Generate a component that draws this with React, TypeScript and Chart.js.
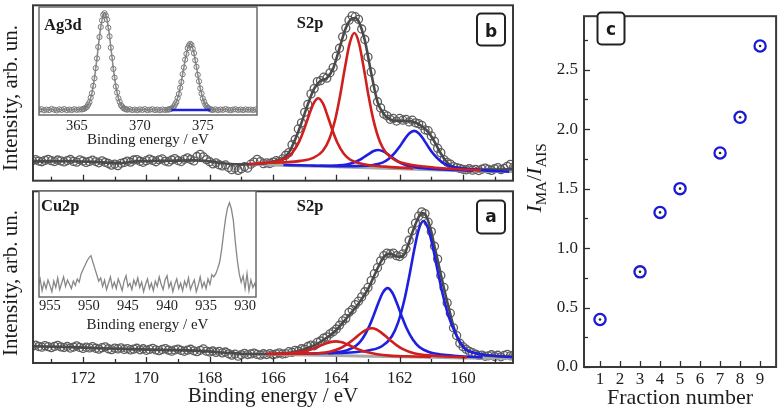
import React, { useEffect, useRef } from 'react';
import { Chart, registerables } from 'chart.js';

Chart.register(...registerables);

const SERIF = "'Liberation Serif', 'Times New Roman', serif";
const BOXFONT = "'DejaVu Sans', 'Liberation Sans', sans-serif";
Chart.defaults.font.family = SERIF;
Chart.defaults.color = '#1e1e1e';

type Pt = [number, number];

// ================= S2p spectra (panels b and a) =================
const spectrumStartEV = 173.6;
const spectrumStepEV = 0.1;
const spectrumTicksEV = [173, 172, 171, 170, 169, 168, 167, 166, 165, 164, 163, 162, 161, 160, 159];
const intensityTitle = 'Intensity, arb. un.';
const energyTitle = 'Binding energy / eV';

// panel b measured points (173.6 -> 158.4 eV, 0.1 eV step)
const panelBCounts = [
  11.5, 12.0, 11.2, 10.8, 11.6, 12.2, 11.4, 10.9, 11.8, 11.3,
  10.7, 11.5, 12.1, 11.0, 10.6, 11.9, 11.2, 10.4, 11.0, 11.7,
  10.9, 10.2, 11.3, 10.5, 9.8, 8.9, 9.5, 8.6, 9.9, 10.4,
  11.2, 10.6, 11.8, 12.0, 11.1, 10.5, 11.4, 12.3, 11.6, 10.8,
  11.9, 12.4, 11.2, 10.7, 11.8, 12.6, 11.5, 10.9, 12.2, 13.0,
  12.1, 11.3, 13.8, 15.0, 13.6, 12.0, 10.8, 9.6, 10.2, 9.1,
  8.4, 9.0, 7.5, 6.3, 7.1, 5.9, 6.8, 8.0, 7.2, 9.4,
  10.6, 12.2, 10.9, 9.7, 10.2, 9.8, 10.6, 11.4, 11.0, 12.4,
  14.5, 16.0, 20.5, 23.5, 29.5, 33.0, 39.0, 43.5, 49.5, 52.5,
  56.5, 57.0, 59.0, 58.5, 61.5, 64.5, 71.0, 75.5, 82.0, 87.0,
  91.5, 94.0, 93.5, 92.0, 86.5, 80.5, 70.5, 62.0, 52.5, 45.0,
  41.5, 38.0, 37.0, 35.0, 35.5, 34.0, 35.5, 34.5, 35.0, 33.5,
  34.5, 33.0, 32.5, 31.5, 29.0, 28.5, 25.5, 22.5, 18.5, 16.0,
  12.0, 10.5, 9.5, 8.0, 7.5, 7.0, 6.5, 6.2, 6.8, 6.0,
  6.5, 5.8, 6.6, 7.2, 6.4, 5.9, 6.8, 7.5, 6.3, 7.0,
  8.2, 9.3, 7.8,
];

const panelBEnvelope: Pt[] = [
  [173.6, 11.0], [172.5, 11.1], [171.5, 10.6], [170.9, 10.0], [170.3, 11.0], [169.5, 11.3],
  [168.5, 11.6], [168.0, 11.0], [167.5, 9.8], [167.0, 9.3], [166.5, 9.5], [166.1, 10.4],
  [165.9, 11.4], [165.7, 12.4], [165.5, 16.0], [165.3, 23.5], [165.1, 33.0], [164.9, 43.5],
  [164.7, 52.5], [164.5, 57.0], [164.3, 58.5], [164.1, 64.0], [163.9, 75.5], [163.7, 87.0],
  [163.5, 92.5], [163.4, 92.8], [163.3, 91.0], [163.1, 80.0], [162.9, 61.5], [162.7, 45.0],
  [162.5, 38.0], [162.3, 35.0], [162.1, 34.2], [161.9, 34.2], [161.7, 34.0], [161.5, 33.2],
  [161.3, 31.0], [161.1, 27.8], [160.9, 22.2], [160.7, 15.5], [160.5, 10.3], [160.3, 8.0],
  [160.1, 7.4], [159.8, 6.7], [159.0, 6.4], [158.4, 6.6],
];

const panelBBackground: Pt[] = [
  [166.7, 9.4], [166.0, 9.0], [165.0, 8.45], [164.0, 7.9], [163.0, 7.35], [162.0, 6.8],
  [161.0, 6.25], [160.0, 5.7], [159.0, 5.45], [158.4, 5.3],
];

const panelBRedMain: Pt[] = [
  [166.43, 10.1], [165.63, 10.5], [165.13, 11.3], [164.73, 13.0], [164.43, 16.9], [164.23, 23.3],
  [164.03, 35.3], [163.88, 48.6], [163.73, 64.2], [163.58, 78.2], [163.43, 84.2], [163.28, 78.1],
  [163.13, 63.9], [162.98, 48.1], [162.83, 34.7], [162.63, 22.5], [162.43, 15.9], [162.13, 11.6],
  [161.73, 9.4], [161.23, 8.1], [160.43, 6.8], [159.43, 5.9],
];
const panelBRedMinor: Pt[] = [
  [166.77, 9.6], [166.27, 10.0], [165.87, 11.0], [165.57, 13.2], [165.37, 16.4], [165.17, 22.4],
  [165.02, 29.1], [164.87, 37.0], [164.72, 44.0], [164.57, 47.0], [164.42, 43.9], [164.27, 36.6],
  [164.12, 28.6], [163.97, 21.8], [163.77, 15.5], [163.57, 12.1], [163.27, 9.9], [162.87, 8.7],
  [162.37, 7.9], [161.57, 7.0],
];
const panelBBlueMain: Pt[] = [
  [164.54, 8.5], [163.74, 8.3], [163.24, 8.4], [162.84, 9.0], [162.54, 10.3], [162.34, 12.5],
  [162.14, 16.1], [161.99, 19.7], [161.84, 23.7], [161.69, 27.1], [161.54, 28.4], [161.39, 26.9],
  [161.24, 23.4], [161.09, 19.2], [160.94, 15.4], [160.74, 11.6], [160.54, 9.2], [160.24, 7.5],
  [159.84, 6.6], [159.34, 5.9], [158.54, 5.2],
];
const panelBBlueMinor: Pt[] = [
  [165.67, 9.0], [164.87, 8.7], [164.37, 8.5], [163.97, 8.7], [163.67, 9.2], [163.47, 10.2],
  [163.27, 11.8], [163.12, 13.5], [162.97, 15.3], [162.82, 16.9], [162.67, 17.5], [162.52, 16.7],
  [162.37, 15.0], [162.22, 13.0], [162.07, 11.2], [161.87, 9.3], [161.67, 8.1], [161.37, 7.2],
  [160.97, 6.7], [160.47, 6.2], [159.67, 5.7],
];

// panel a measured points (173.6 -> 158.4 eV, 0.1 eV step)
const panelACounts = [
  9.8, 10.4, 9.6, 9.2, 10.1, 9.5, 8.9, 9.7, 10.3, 9.4,
  9.0, 9.6, 8.7, 9.3, 10.0, 9.1, 8.5, 9.2, 8.8, 9.5,
  8.6, 8.1, 8.9, 9.4, 8.3, 7.8, 8.7, 8.2, 8.8, 7.9,
  8.4, 7.6, 8.1, 8.6, 7.7, 8.3, 7.4, 7.9, 8.5, 7.6,
  7.2, 7.9, 8.4, 7.5, 6.9, 7.6, 8.1, 7.3, 6.8, 7.5,
  8.0, 7.1, 6.6, 7.4, 8.2, 6.9, 6.4, 7.0, 6.2, 6.8,
  5.9, 6.4, 5.4, 4.6, 5.2, 4.0, 4.8, 5.6, 4.9, 5.3,
  5.8, 5.0, 4.6, 5.4, 4.9, 5.5, 4.8, 5.3, 5.9, 5.2,
  5.5, 6.6, 6.2, 7.4, 7.0, 8.3, 8.0, 9.6, 10.4, 10.0,
  12.0, 12.8, 14.5, 15.2, 17.0, 18.2, 19.8, 22.0, 24.5, 26.0,
  29.5, 31.0, 34.0, 36.0, 38.5, 41.5, 44.0, 48.0, 52.0, 55.5,
  59.5, 62.5, 64.0, 63.5, 64.0, 62.5, 62.0, 63.5, 66.5, 71.5,
  77.0, 81.5, 85.5, 88.0, 87.0, 82.0, 76.5, 68.0, 60.5, 51.0,
  44.0, 35.0, 29.0, 20.5, 16.0, 11.5, 9.5, 8.0, 6.8, 6.0,
  5.2, 4.4, 4.6, 3.9, 4.2, 4.8, 3.8, 4.5, 3.6, 4.4,
  5.0, 4.2, 4.7,
];

const panelAEnvelope: Pt[] = [
  [173.6, 9.8], [172.5, 9.3], [171.5, 8.6], [170.5, 8.1], [169.5, 7.6], [168.5, 7.2],
  [167.5, 6.0], [167.0, 5.4], [166.5, 5.2], [166.0, 5.3], [165.6, 5.6], [165.3, 6.5],
  [165.0, 8.0], [164.8, 9.5], [164.6, 11.2], [164.4, 13.6], [164.2, 16.2], [164.0, 19.2],
  [163.8, 23.4], [163.6, 27.8], [163.4, 32.2], [163.2, 37.2], [163.0, 43.0], [162.8, 51.0],
  [162.6, 58.8], [162.45, 62.8], [162.3, 63.7], [162.15, 62.5], [162.0, 61.8], [161.85, 63.5],
  [161.7, 70.5], [161.55, 78.5], [161.4, 85.0], [161.3, 87.3], [161.2, 86.8], [161.1, 82.8],
  [161.0, 76.5], [160.9, 68.0], [160.8, 60.0], [160.7, 51.5], [160.6, 43.5], [160.5, 35.8],
  [160.4, 28.5], [160.3, 21.5], [160.2, 15.8], [160.1, 11.8], [160.0, 9.6], [159.85, 7.4],
  [159.6, 5.7], [159.3, 4.6], [159.0, 4.1], [158.4, 3.6],
];

const panelABackground: Pt[] = [
  [166.6, 5.2], [165.0, 4.64], [164.0, 4.3], [163.0, 3.96], [162.0, 3.62], [161.0, 3.28],
  [160.0, 2.94], [159.0, 2.8], [158.4, 2.8],
];

const panelABlueMain: Pt[] = [
  [164.25, 5.6], [163.45, 6.3], [162.95, 7.4], [162.55, 9.9], [162.25, 15.4], [162.05, 23.5],
  [161.85, 36.8], [161.7, 50.2], [161.55, 65.0], [161.4, 77.6], [161.25, 82.7], [161.1, 78.3],
  [160.95, 67.3], [160.8, 53.7], [160.65, 40.8], [160.45, 27.0], [160.25, 17.8], [159.95, 8.5],
  [159.55, 5.6], [159.05, 4.2], [158.25, 3.2],
];
const panelABlueMinor: Pt[] = [
  [165.38, 5.4], [164.58, 5.6], [164.08, 6.1], [163.68, 7.3], [163.38, 10.0], [163.18, 14.0],
  [162.98, 20.6], [162.83, 27.3], [162.68, 34.7], [162.53, 41.0], [162.38, 43.6], [162.23, 40.9],
  [162.08, 34.5], [161.93, 27.0], [161.78, 20.2], [161.58, 13.5], [161.38, 9.3], [161.08, 6.4],
  [160.68, 4.9], [160.18, 4.1], [159.38, 3.3],
];
const panelARedMain: Pt[] = [
  [165.88, 5.3], [165.08, 5.4], [164.58, 5.7], [164.18, 6.7], [163.88, 8.6], [163.68, 10.7],
  [163.48, 13.4], [163.33, 15.7], [163.18, 17.9], [163.03, 19.6], [162.88, 20.2], [162.73, 19.5],
  [162.58, 17.7], [162.43, 15.4], [162.28, 13.0], [162.08, 10.1], [161.88, 7.9], [161.58, 5.8],
  [161.18, 4.6], [160.68, 3.9], [159.88, 3.3],
];
const panelARedMinor: Pt[] = [
  [166.21, 5.3], [165.71, 5.4], [165.31, 6.0], [165.01, 6.8], [164.81, 7.9], [164.61, 9.2],
  [164.46, 10.4], [164.31, 11.5], [164.16, 12.3], [164.01, 12.6], [163.86, 12.2], [163.71, 11.3],
  [163.56, 10.1], [163.41, 8.8], [163.21, 7.3], [163.01, 6.2], [162.71, 5.1], [162.31, 4.3],
  [161.81, 3.9], [161.01, 3.5],
];

// ================= Ag3d inset =================
const agTicksEV = [365, 370, 375];
const agSpectrum: Pt[] = [
  [362.0, 4.8], [362.2, 5.4], [362.4, 4.4], [362.6, 5.0], [362.8, 4.6], [363.0, 5.6], [363.2, 4.9],
  [363.4, 4.3], [363.6, 5.2], [363.8, 4.7], [364.0, 5.5], [364.2, 4.5], [364.4, 5.0], [364.6, 4.6],
  [364.8, 5.3], [365.0, 4.8], [365.2, 5.1], [365.4, 5.1], [365.5, 5.6], [365.6, 5.8], [365.7, 6.7],
  [365.8, 7.5], [365.9, 9.6], [366.0, 11.8], [366.1, 16.0], [366.2, 20.2], [366.3, 27.0], [366.4, 34.0],
  [366.5, 43.4], [366.6, 52.4], [366.7, 63.0], [366.8, 72.2], [366.9, 81.5], [367.0, 87.6], [367.1, 92.8],
  [367.2, 94.2], [367.3, 92.2], [367.4, 88.4], [367.5, 80.8], [367.6, 72.8], [367.7, 62.4], [367.8, 53.0],
  [367.9, 42.7], [368.0, 34.6], [368.1, 26.4], [368.2, 20.8], [368.3, 15.5], [368.4, 12.2], [368.5, 9.2],
  [368.6, 7.8], [368.7, 6.4], [368.8, 5.8], [368.9, 5.4], [369.0, 4.9], [369.2, 5.3], [369.4, 4.6],
  [369.6, 5.0], [369.8, 4.4], [370.0, 5.2], [370.2, 4.7], [370.4, 5.4], [370.6, 4.5], [370.8, 4.9],
  [371.0, 5.3], [371.2, 4.6], [371.4, 5.0], [371.6, 4.4], [371.8, 5.1], [372.0, 4.7], [372.2, 4.9],
  [372.3, 5.1], [372.4, 5.4], [372.5, 5.8], [372.6, 6.8], [372.7, 7.8], [372.8, 9.9], [372.9, 12.0],
  [373.0, 15.7], [373.1, 19.5], [373.2, 25.2], [373.3, 30.6], [373.4, 37.8], [373.5, 44.0], [373.6, 51.3],
  [373.7, 56.6], [373.8, 61.9], [373.9, 64.4], [374.0, 65.9], [374.1, 64.9], [374.2, 61.3], [374.3, 57.2],
  [374.4, 50.7], [374.5, 44.6], [374.6, 37.2], [374.7, 31.2], [374.8, 24.6], [374.9, 19.9], [375.0, 15.3],
  [375.1, 12.4], [375.2, 9.5], [375.3, 8.0], [375.4, 6.6], [375.5, 6.0], [375.6, 5.2], [375.7, 5.0],
  [375.8, 4.7], [376.0, 5.2], [376.2, 4.6], [376.4, 5.1], [376.6, 4.8], [376.8, 5.5], [377.0, 4.9],
  [377.2, 4.4], [377.4, 5.0], [377.6, 5.3], [377.8, 4.7], [378.0, 5.1], [378.2, 4.6], [378.4, 5.2],
  [378.6, 4.8], [378.8, 5.0], [379.0, 4.6], [379.2, 5.1],
];
const agBlueBase: Pt[] = [[372.5, 4.6], [375.6, 4.6]];

// ================= Cu2p inset =================
const cuTicksEV = [955, 950, 945, 940, 935, 930];
const cuStartEV = 956.5;
const cuStepEV = 0.25;
const cuCounts = [
  10, 17, 6, 14, 8, 16, 11, 5, 15, 9,
  18, 7, 13, 19, 10, 16, 12, 8, 15, 11,
  17, 14, 22, 26, 30, 34, 37, 39, 33, 27,
  21, 15, 18, 10, 16, 7, 13, 19, 9, 14,
  8, 17, 12, 6, 15, 20, 10, 13, 7, 16,
  11, 18, 9, 14, 5, 12, 17, 8, 13, 6,
  15, 10, 19, 12, 7, 16, 20, 9, 14, 5,
  12, 17, 8, 13, 6, 15, 10, 18, 7, 12,
  16, 5, 11, 19, 9, 14, 8, 17, 12, 21,
  19, 22, 27, 33, 45, 60, 74, 84, 89, 83,
  72, 52, 35, 22, 14, 20, 8, 22, 6, 16,
  9, 13, 7,
];

// ================= Panel c =================
const fractionNumbers = [1, 3, 4, 5, 7, 8, 9];
const intensityRatios = [0.4, 0.8, 1.3, 1.5, 1.8, 2.1, 2.7];
const fractionTicks = [1, 2, 3, 4, 5, 6, 7, 8, 9];
const ratioTicks = [0, 0.25, 0.5, 0.75, 1, 1.25, 1.5, 1.75, 2, 2.25, 2.5, 2.75];

// ================= helpers =================
const toXY = (pts: Pt[]) => pts.map(([x, y]) => ({ x, y }));
const gridToXY = (vals: number[], start: number, step: number) =>
  vals.map((y, i) => ({ x: Math.round((start - i * step) * 100) / 100, y }));

function framePlugin(color: string, width: number, fill?: string) {
  return {
    id: 'frame',
    beforeDatasetsDraw(chart: any) {
      if (!fill) return;
      const { ctx, chartArea: a } = chart;
      ctx.save();
      ctx.fillStyle = fill;
      ctx.fillRect(a.left, a.top, a.right - a.left, a.bottom - a.top);
      ctx.restore();
    },
    afterDraw(chart: any) {
      const { ctx, chartArea: a } = chart;
      ctx.save();
      ctx.strokeStyle = color;
      ctx.lineWidth = width;
      ctx.strokeRect(a.left, a.top, a.right - a.left, a.bottom - a.top);
      ctx.restore();
    },
  };
}

function innerTicksPlugin(specs: { axis: string; major: number; minor: number; step: number }[]) {
  return {
    id: 'innerTicks',
    afterDraw(chart: any) {
      const { ctx, chartArea: a } = chart;
      ctx.save();
      ctx.strokeStyle = '#2e2e2e';
      ctx.lineWidth = 1.3;
      for (const s of specs) {
        const scale = chart.scales[s.axis];
        for (const t of scale.ticks) {
          const r = t.value / s.step;
          const len = (Math.abs(r - Math.round(r)) < 1e-6 ? s.major : s.minor) + 1;
          const p = Math.round(scale.getPixelForValue(t.value)) + 0.5;
          ctx.beginPath();
          if (scale.isHorizontal()) {
            ctx.moveTo(p, a.bottom);
            ctx.lineTo(p, a.bottom - len);
          } else {
            ctx.moveTo(a.left, p);
            ctx.lineTo(a.left + len, p);
          }
          ctx.stroke();
        }
      }
      ctx.restore();
    },
  };
}

type Note =
  | { kind: 'text'; text: string; x: number; y: number; f: string; align?: CanvasTextAlign; rot?: boolean }
  | { kind: 'box'; x: number; y: number; w: number; h: number };

function notesPlugin(items: Note[]) {
  return {
    id: 'notes',
    afterDraw(chart: any) {
      const ctx: CanvasRenderingContext2D = chart.ctx;
      for (const it of items) {
        ctx.save();
        if (it.kind === 'box') {
          ctx.beginPath();
          (ctx as any).roundRect(it.x, it.y, it.w, it.h, 4);
          ctx.fillStyle = '#fff';
          ctx.fill();
          ctx.strokeStyle = '#222';
          ctx.lineWidth = 2;
          ctx.stroke();
        } else {
          ctx.font = it.f;
          ctx.fillStyle = '#1a1a1a';
          ctx.textAlign = it.align || 'center';
          ctx.textBaseline = 'alphabetic';
          if (it.rot) {
            ctx.translate(it.x, it.y);
            ctx.rotate(-Math.PI / 2);
            ctx.fillText(it.text, 0, 0);
          } else {
            ctx.fillText(it.text, it.x, it.y);
          }
        }
        ctx.restore();
      }
    },
  };
}

function ratioTitlePlugin(baseX: number, centerY: number) {
  return {
    id: 'ratioTitle',
    afterDraw(chart: any) {
      const ctx: CanvasRenderingContext2D = chart.ctx;
      const parts = [
        { t: 'I', f: `italic 22px ${SERIF}`, dy: 0 },
        { t: 'MA', f: `15px ${SERIF}`, dy: 5 },
        { t: '/', f: `22px ${SERIF}`, dy: 0 },
        { t: 'I', f: `italic 22px ${SERIF}`, dy: 0 },
        { t: 'AIS', f: `15px ${SERIF}`, dy: 5 },
      ];
      ctx.save();
      ctx.fillStyle = '#1a1a1a';
      ctx.textBaseline = 'alphabetic';
      ctx.textAlign = 'left';
      const widths = parts.map((p) => {
        ctx.font = p.f;
        return ctx.measureText(p.t).width;
      });
      const total = widths.reduce((a, b) => a + b, 0);
      ctx.translate(baseX, centerY);
      ctx.rotate(-Math.PI / 2);
      let x = -total / 2;
      parts.forEach((p, i) => {
        ctx.font = p.f;
        ctx.fillText(p.t, x, p.dy);
        x += widths[i];
      });
      ctx.restore();
    },
  };
}

const baseOptions = {
  responsive: false,
  animation: false,
  events: [],
  plugins: { legend: { display: false }, tooltip: { enabled: false } },
};

const RED = '#cf1f1f';
const BLUE = '#1f1fe0';

function spectrumDatasets(
  counts: number[],
  envelope: Pt[],
  background: Pt[],
  reds: Pt[][],
  blues: Pt[][]
) {
  const line = (pts: Pt[], color: string, order: number, width = 2.6) => ({
    data: toXY(pts),
    borderColor: color,
    borderWidth: width,
    pointRadius: 0,
    cubicInterpolationMode: 'monotone',
    fill: false,
    order,
  });
  return [
    ...reds.map((r) => line(r, RED, 2)),
    ...blues.map((b) => line(b, BLUE, 2)),
    line(envelope, '#4a4a4a', 4, 2.6),
    { ...line(background, '#a9a9a9', 5, 3), cubicInterpolationMode: 'default', tension: 0 },
    {
      data: gridToXY(counts, spectrumStartEV, spectrumStepEV),
      showLine: false,
      pointRadius: 4,
      pointBorderWidth: 1.3,
      pointBorderColor: '#5c5c5c',
      pointBackgroundColor: 'rgba(255,255,255,0)',
      order: 6,
    },
  ];
}

function spectrumConfig(p: {
  datasets: any[];
  showLabels: boolean;
  padTop: number;
  xHeight: number;
  notes: Note[];
}) {
  return {
    type: 'line',
    data: { datasets: p.datasets },
    options: {
      ...baseOptions,
      layout: { padding: { top: p.padTop, right: 7, left: 0, bottom: 0 } },
      scales: {
        x: {
          type: 'linear',
          reverse: true,
          min: 158.42,
          max: 173.58,
          afterBuildTicks: (s: any) => {
            s.ticks = spectrumTicksEV.map((v) => ({ value: v }));
          },
          afterFit: (s: any) => {
            s.height = p.xHeight;
          },
          grid: { display: false, drawTicks: false },
          border: { display: false },
          ticks: {
            display: p.showLabels,
            font: { size: 17 },
            padding: 5,
            maxRotation: 0,
            autoSkip: false,
            callback: (v: number) => (v % 2 === 0 ? String(v) : ''),
          },
          title: {
            display: p.showLabels,
            text: energyTitle,
            font: { size: 21 },
            padding: { top: 0, bottom: 4 },
          },
        },
        y: {
          type: 'linear',
          min: 0,
          max: 100,
          afterFit: (s: any) => {
            s.width = 33;
          },
          grid: { display: false, drawTicks: false },
          border: { display: false },
          ticks: { display: false },
          title: { display: false },
        },
      },
    },
    plugins: [
      framePlugin('#3a3a3a', 2),
      innerTicksPlugin([{ axis: 'x', major: 5, minor: 3, step: 2 }]),
      notesPlugin(p.notes),
    ],
  };
}

const makePanelB = () =>
  spectrumConfig({
    datasets: spectrumDatasets(
      panelBCounts,
      panelBEnvelope,
      panelBBackground,
      [panelBRedMinor, panelBRedMain],
      [panelBBlueMinor, panelBBlueMain]
    ),
    showLabels: false,
    padTop: 4,
    xHeight: 4,
    notes: [
      { kind: 'text', text: intensityTitle, x: 17, y: 98, f: `21px ${SERIF}`, rot: true },
      { kind: 'text', text: 'S2p', x: 310, y: 27.5, f: `bold 16.5px ${SERIF}` },
      { kind: 'box', x: 477, y: 13.5, w: 28, h: 32 },
      { kind: 'text', text: 'b', x: 491, y: 36.5, f: `bold 17px ${BOXFONT}` },
    ],
  });

const makePanelA = () =>
  spectrumConfig({
    datasets: spectrumDatasets(
      panelACounts,
      panelAEnvelope,
      panelABackground,
      [panelARedMinor, panelARedMain],
      [panelABlueMinor, panelABlueMain]
    ),
    showLabels: true,
    padTop: 2,
    xHeight: 50,
    notes: [
      { kind: 'text', text: intensityTitle, x: 17, y: 283 - 186, f: `21px ${SERIF}`, rot: true },
      { kind: 'text', text: 'S2p', x: 310, y: 25, f: `bold 16.5px ${SERIF}` },
      { kind: 'box', x: 477, y: 14.5, w: 28, h: 33 },
      { kind: 'text', text: 'a', x: 491, y: 35.7, f: `bold 17px ${BOXFONT}` },
    ],
  });

function insetScales(min: number, max: number, reverse: boolean, ticks: number[], xHeight: number, tickPad: number, titlePad: number) {
  return {
    x: {
      type: 'linear',
      min,
      max,
      reverse,
      afterBuildTicks: (s: any) => {
        s.ticks = ticks.map((v) => ({ value: v }));
      },
      afterFit: (s: any) => {
        s.height = xHeight;
      },
      grid: { display: false, drawTicks: false },
      border: { display: false },
      ticks: { font: { size: 14.5 }, padding: tickPad, maxRotation: 0, autoSkip: false },
      title: {
        display: true,
        text: energyTitle,
        font: { size: 15 },
        padding: { top: 0, bottom: titlePad },
      },
    },
    y: {
      type: 'linear',
      min: 0,
      max: 100,
      afterFit: (s: any) => {
        s.width = 19;
      },
      grid: { display: false, drawTicks: false },
      border: { display: false },
      ticks: { display: false },
    },
  };
}

const makeAgInset = () => ({
  type: 'line',
  data: {
    datasets: [
      {
        data: toXY(agBlueBase),
        borderColor: BLUE,
        borderWidth: 2.6,
        pointRadius: 0,
        order: 0,
      },
      {
        data: toXY(agSpectrum),
        borderColor: '#8c8c8c',
        borderWidth: 1.6,
        cubicInterpolationMode: 'monotone',
        pointRadius: 2.6,
        pointBorderWidth: 1,
        pointBorderColor: '#7a7a7a',
        pointBackgroundColor: 'rgba(255,255,255,0)',
        order: 1,
      },
    ],
  },
  options: {
    ...baseOptions,
    layout: { padding: { top: 7, right: 13, left: 0, bottom: 0 } },
    scales: insetScales(362.0, 379.3, false, agTicksEV, 35, 2, 1),
  },
  plugins: [
    framePlugin('#6a6a6a', 1.5, '#fff'),
    notesPlugin([{ kind: 'text', text: 'Ag3d', x: 24, y: 29.5, f: `bold 16.5px ${SERIF}`, align: 'left' }]),
  ],
});

const makeCuInset = () => ({
  type: 'line',
  data: {
    datasets: [
      {
        data: gridToXY(cuCounts, cuStartEV, cuStepEV),
        borderColor: '#878787',
        borderWidth: 1.3,
        pointRadius: 0,
        tension: 0,
      },
    ],
  },
  options: {
    ...baseOptions,
    layout: { padding: { top: 5, right: 14, left: 0, bottom: 0 } },
    scales: insetScales(928.6, 956.4, true, cuTicksEV, 39, 0, 2),
  },
  plugins: [
    framePlugin('#6a6a6a', 1.5, '#fff'),
    notesPlugin([{ kind: 'text', text: 'Cu2p', x: 21, y: 25, f: `bold 16.5px ${SERIF}`, align: 'left' }]),
  ],
});

const makePanelC = () => {
  const pts = fractionNumbers.map((x, i) => ({ x, y: intensityRatios[i] }));
  return {
    type: 'scatter',
    data: {
      datasets: [
        {
          data: pts,
          pointRadius: 1.3,
          pointBorderWidth: 0,
          pointBackgroundColor: '#2a2a2a',
          order: 0,
        },
        {
          data: pts,
          pointRadius: 5.6,
          pointBorderWidth: 2.3,
          pointBorderColor: '#1a1ad6',
          pointBackgroundColor: '#fff',
          order: 1,
        },
      ],
    },
    options: {
      ...baseOptions,
      layout: { padding: { top: 4, right: 5, left: 0, bottom: 0 } },
      scales: {
        x: {
          type: 'linear',
          min: 0.2,
          max: 9.8,
          afterBuildTicks: (s: any) => {
            s.ticks = fractionTicks.map((v) => ({ value: v }));
          },
          afterFit: (s: any) => {
            s.height = 46;
          },
          grid: { display: false, drawTicks: false },
          border: { display: false },
          ticks: { font: { size: 17 }, padding: 2, maxRotation: 0, autoSkip: false },
          title: {
            display: true,
            text: 'Fraction number',
            font: { size: 22 },
            padding: { top: 0, bottom: 2 },
          },
        },
        y: {
          type: 'linear',
          min: 0,
          max: 2.95,
          afterBuildTicks: (s: any) => {
            s.ticks = ratioTicks.map((v) => ({ value: v }));
          },
          afterFit: (s: any) => {
            s.width = 69;
          },
          grid: { display: false, drawTicks: false },
          border: { display: false },
          ticks: {
            font: { size: 17 },
            padding: 6,
            autoSkip: false,
            callback: (v: number) => {
              const r = v * 2;
              return Math.abs(r - Math.round(r)) < 1e-6 ? v.toFixed(1) : '';
            },
          },
        },
      },
    },
    plugins: [
      framePlugin('#3a3a3a', 2),
      innerTicksPlugin([
        { axis: 'x', major: 5, minor: 5, step: 1 },
        { axis: 'y', major: 5, minor: 3, step: 0.5 },
      ]),
      notesPlugin([
        { kind: 'box', x: 82.5, y: 12.5, w: 27, h: 32 },
        { kind: 'text', text: 'c', x: 96, y: 35, f: `bold 17px ${BOXFONT}` },
      ]),
      ratioTitlePlugin(26, 178),
    ],
  };
};

function CanvasChart(props: { left: number; top: number; width: number; height: number; make: () => any }) {
  const ref = useRef<HTMLCanvasElement>(null);
  useEffect(() => {
    const chart = new Chart(ref.current as HTMLCanvasElement, props.make());
    return () => chart.destroy();
  }, []);
  return (
    <canvas
      ref={ref}
      width={props.width}
      height={props.height}
      style={{ position: 'absolute', left: props.left, top: props.top, width: props.width, height: props.height }}
    />
  );
}

export default function App() {
  useEffect(() => {
    document.body.style.margin = '0';
  }, []);
  return (
    <div style={{ position: 'relative', width: 784, height: 413, background: '#fff', overflow: 'hidden' }}>
      <CanvasChart left={0} top={0} width={520} height={186} make={makePanelB} />
      <CanvasChart left={0} top={186} width={520} height={227} make={makePanelA} />
      <CanvasChart left={20} top={0} width={250} height={150} make={makeAgInset} />
      <CanvasChart left={20} top={186} width={250} height={150} make={makeCuInset} />
      <CanvasChart left={515} top={0} width={269} height={413} make={makePanelC} />
    </div>
  );
}
